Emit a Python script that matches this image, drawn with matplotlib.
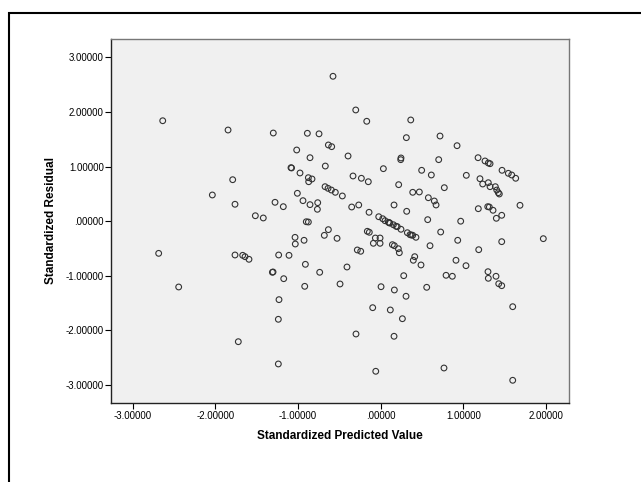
import matplotlib
matplotlib.use("Agg")
import matplotlib.pyplot as plt
from matplotlib.patches import Rectangle

# Standardized predicted values (x) and standardized residuals (y)
pred = [-0.577, -2.636, -1.846, -1.299, -0.887, -0.746, -1.016, -0.633, -0.593, -0.395,
        -0.855, -1.085, -1.078, -0.67, -0.976, -0.875, -0.831, -0.871, -1.79, -2.036,
        -1.762, -1.278, -1.178, -1.008, -0.94, -0.855, -0.762, -0.766, -0.673, -0.637,
        -0.597, -0.549, -0.464, -1.516, -1.42, -0.9, -0.875, -0.633, -0.682, -0.528,
        -1.036, -1.033, -0.927, -2.685, -2.443, -1.762, -1.669, -1.641, -1.593, -1.234,
        -1.109, -1.31, -1.302, -1.173, -0.911, -0.738, -0.919, -0.492, -0.408, -1.23,
        -1.238, -1.722, -1.238, -0.302, -0.169, 0.363, 0.31, 0.717, 0.923, 0.245,
        0.242, 0.032, -0.335, -0.234, -0.15, 0.495, 0.612, 0.701, 0.217, 1.035,
        1.177, 1.261, 1.301, 1.322, 1.467, 1.543, 1.584, 1.632, 1.2, 1.233,
        1.301, 1.322, 1.386, 1.422, 1.434, 1.403, 0.387, 0.467, 0.576, 0.648,
        0.669, 0.769, 1.684, 1.18, 1.294, 1.313, 1.358, 1.398, 1.463, 0.967,
        0.568, -0.351, -0.266, -0.141, 0.161, 0.314,
        -0.024, 0.024, 0.052, 0.092, 0.104, 0.11, 0.153, 0.185, 0.2, 0.245,
        0.322, 0.354, 0.37, 0.387, 0.426,
        -0.162, -0.138, -0.065, -0.008, -0.089, -0.008, -0.283, -0.242, 0.141, 0.165,
        0.213, 0.225, 0.411, 0.394, 0.487, 0.596, 0.725, 0.931, 0.91, 1.031,
        0.79, 0.866, 0.556, 0.278, 0.004, 0.165, 0.306, -0.097, 0.116, 0.262,
        -0.299, 0.161, -0.06, 0.765, 1.596, 1.185, 1.463, 1.297, 1.301, 1.394,
        1.427, 1.463, 1.596, 1.966]
resid = [2.654, 1.84, 1.67, 1.615, 1.61, 1.60, 1.304, 1.396, 1.365, 1.194,
         1.163, 0.98, 0.975, 1.01, 0.883, 0.797, 0.773, 0.723, 0.76, 0.48,
         0.31, 0.346, 0.266, 0.511, 0.376, 0.303, 0.339, 0.218, 0.632, 0.602,
         0.571, 0.529, 0.462, 0.10, 0.059, -0.01, -0.015, -0.155, -0.259, -0.314,
         -0.296, -0.418, -0.35, -0.589, -1.205, -0.619, -0.625, -0.65, -0.698, -0.619,
         -0.625, -0.936, -0.93, -1.053, -0.79, -0.936, -1.193, -1.15, -0.839, -1.437,
         -1.797, -2.207, -2.615, 2.037, 1.83, 1.854, 1.53, 1.56, 1.383, 1.158,
         1.127, 0.962, 0.828, 0.786, 0.723, 0.932, 0.846, 1.127, 0.669, 0.84,
         1.163, 1.103, 1.066, 1.053, 0.932, 0.877, 0.846, 0.786, 0.778, 0.681,
         0.705, 0.632, 0.632, 0.522, 0.498, 0.571, 0.529, 0.535, 0.43, 0.37,
         0.297, 0.614, 0.291, 0.229, 0.266, 0.26, 0.2, 0.053, 0.108, 0.0,
         0.028, 0.26, 0.297, 0.163, 0.297, 0.181,
         0.082, 0.045, 0.009, -0.02, -0.027, -0.035, -0.065, -0.093, -0.1, -0.148,
         -0.211, -0.247, -0.253, -0.258, -0.295,
         -0.185, -0.203, -0.308, -0.308, -0.405, -0.405, -0.527, -0.551, -0.43, -0.449,
         -0.504, -0.577, -0.65, -0.716, -0.802, -0.449, -0.198, -0.35, -0.716, -0.815,
         -0.991, -1.009, -1.211, -0.998, -1.2, -1.26, -1.375, -1.584, -1.626, -1.786,
         -2.066, -2.108, -2.749, -2.689, -2.914, -0.522, -0.375, -0.925, -1.046, -1.009,
         -1.145, -1.181, -1.566, -0.32]

xticks = [-3, -2, -1, 0, 1, 2]
yticks = [-3, -2, -1, 0, 1, 2, 3]
xlabel = "Standardized Predicted Value"
ylabel = "Standardized Residual"


def fmt(v):
    s = f"{v:.5f}"
    if s.startswith("0"):
        s = s[1:]
    elif s.startswith("-0"):
        s = "-" + s[2:]
    return s


plt.rcParams['font.family'] = ['Liberation Sans', 'DejaVu Sans']

W, H = 641, 482
fig = plt.figure(figsize=(W / 100, H / 100), dpi=100)
fig.patch.set_facecolor('white')

# outer frame
fig.patches.append(Rectangle((9 / W, -0.05), 1.2, (H - 12.7) / H + 0.05,
                             transform=fig.transFigure, fill=False,
                             edgecolor='black', linewidth=1.5))

ax = fig.add_axes([110.7 / W, (H - 403) / H, (568.7 - 110.7) / W, (403 - 39) / H])
ax.set_facecolor('#F0F0F0')
ax.scatter(pred, resid, s=17, facecolors='none', edgecolors='#333333', linewidths=0.8, zorder=3)

ax.set_xlim(-3.265, 2.273)
ax.set_ylim(-3.33, 3.337)
ax.set_xticks(xticks)
ax.set_xticklabels([fmt(v) for v in xticks], fontsize=7)
ax.set_yticks(yticks)
ax.set_yticklabels([fmt(v) for v in yticks], fontsize=7)
ax.tick_params(axis='x', direction='out', length=4, width=0.8, pad=2)
ax.tick_params(axis='y', direction='out', length=4, width=0.8, pad=1)

for side in ['left', 'bottom']:
    ax.spines[side].set_color('#222222')
    ax.spines[side].set_linewidth(1.0)
for side in ['top', 'right']:
    ax.spines[side].set_color('#777777')
    ax.spines[side].set_linewidth(1.0)

ax.set_xlabel(xlabel, fontsize=8.5, fontweight='bold', labelpad=6)
ax.set_ylabel(ylabel, fontsize=8.5, fontweight='bold', labelpad=6)

fig.savefig("out.png", dpi=100, facecolor='white')
